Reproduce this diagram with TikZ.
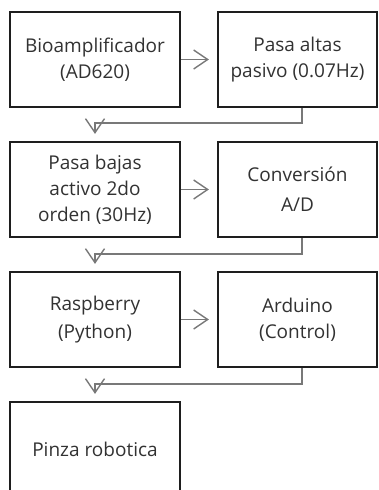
\documentclass[tikz,border=0pt]{standalone}
\usepackage{fontspec}
\setmainfont{Open Sans}
\usetikzlibrary{arrows.meta, positioning, calc}
\definecolor{boxline}{RGB}{30, 30, 30}
\definecolor{boxtext}{RGB}{50, 50, 50}
\definecolor{wire}{RGB}{120, 120, 120}

\begin{document}
\begin{tikzpicture}[x=1pt, y=-1pt,
    block/.style={rectangle, draw=boxline, line width=2.2pt, fill=white,
                  minimum height=95pt, align=center, text=boxtext,
                  font=\fontsize{19}{26}\selectfont},
    wide/.style={block, minimum width=170pt},
    narrow/.style={block, minimum width=159pt},
    link/.style={draw=wire, line width=1.3pt,
                 -{Straight Barb[length=14pt, width=19pt, line width=1.4pt]}}]

    \clip (0, 0) rectangle (379, 490);

    % Blocks
    \node[wide]   (amp)  at (95, 59.5)    {Bioamplificador\\(AD620)};
    \node[narrow] (hp)   at (297.5, 59.5) {Pasa altas\\pasivo (0.07Hz)};
    \node[wide]   (lp)   at (95, 189.5)   {Pasa bajas\\activo 2do\\orden (30Hz)};
    \node[narrow] (adc)  at (297.5, 189.5){Conversión\\[4pt]A/D};
    \node[wide]   (rpi)  at (95, 319.5)   {Raspberry\\[2pt](Python)};
    \node[narrow] (ard)  at (297.5, 319.5){Arduino\\(Control)};
    \node[wide]   (grip) at (95, 449.5)   {Pinza robotica};

    % Bends
    \coordinate (b1) at (302, 123);
    \coordinate (b2) at (302, 254);
    \coordinate (b3) at (302, 384);

    % Arrows
    \draw[link, shorten >=8pt] (amp) -- (hp);
    \draw[link, shorten >=8pt] (lp) -- (adc);
    \draw[link, shorten >=8pt] (rpi) -- (ard);
    \draw[link, shorten >=7pt] (hp.south -| b1) -- (b1) -| (lp.north);
    \draw[link, shorten >=7pt] (adc.south -| b2) -- (b2) -| (rpi.north);
    \draw[link, shorten >=7pt] (ard.south -| b3) -- (b3) -| (grip.north);
\end{tikzpicture}
\end{document}
